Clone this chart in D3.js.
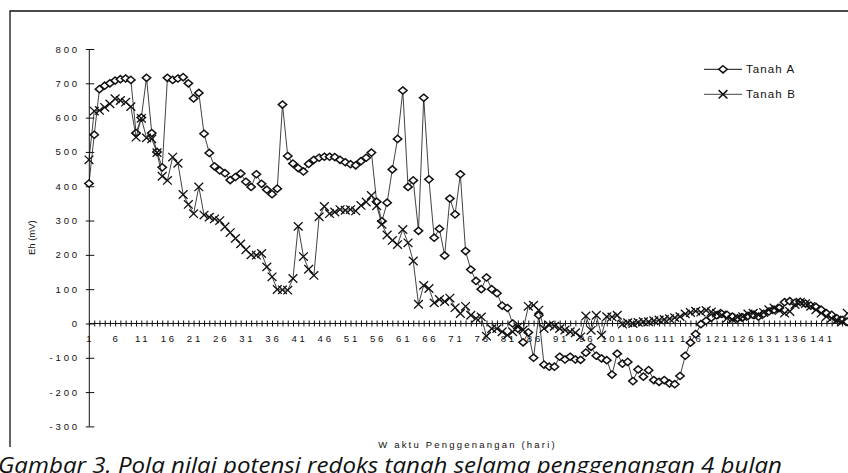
<!DOCTYPE html>
<html><head><meta charset="utf-8">
<script src="https://cdn.jsdelivr.net/npm/d3@7"></script>
<style>body{margin:0;background:#fff}svg{display:block}</style>
</head><body>
<svg id="c" width="848" height="473"></svg>
<script>
// ---- data ----
const days = d3.range(1, 147);
const tanahA = [
  408, 550, 683, 693, 700, 708, 712, 714, 710, 555,
  600, 716, 555, 500, 455, 716, 710, 714, 718, 700,
  656, 672, 553, 497, 458, 446, 438, 418, 427, 437,
  413, 398, 435, 407, 390, 377, 393, 638, 488, 466,
  453, 443, 465, 477, 483, 486, 486, 485, 477, 470,
  464, 461, 473, 483, 498, 355, 298, 352, 449, 538,
  679, 398, 417, 270, 658, 420, 250, 276, 198, 364,
  318, 435, 211, 157, 124, 100, 134, 100, 88, 52,
  45, 0, -15, -55, -26, -100, 24, -120, -126, -126,
  -97, -105, -97, -105, -106, -85, -68, -94, -102, -107,
  -149, -88, -117, -112, -168, -134, -155, -136, -165, -170,
  -165, -175, -177, -153, -94, -56, -31, -2, 8, 17,
  24, 28, 25, 20, 15, 18, 22, 25, 20, 28,
  35, 40, 45, 62, 65, 60, 63, 58, 52, 48,
  40, 30, 25, 15, 10, 5
];
const tanahB = [
  477, 619, 621, 630, 640, 655, 650, 645, 632, 543,
  598, 541, 538, 498, 429, 417, 485, 467, 376, 347,
  320, 398, 316, 310, 305, 300, 282, 265, 248, 232,
  215, 200, 199, 204, 165, 136, 99, 98, 97, 131,
  283, 195, 158, 140, 311, 341, 320, 325, 332, 330,
  332, 328, 344, 354, 373, 343, 289, 258, 242, 230,
  274, 235, 182, 56, 111, 102, 60, 70, 64, 74,
  46, 29, 50, 24, 15, 19, -37, -15, -15, -24,
  -34, -24, -10, -19, 50, 53, 39, -15, -5, -8,
  -15, -19, -24, -27, -39, 22, -20, 24, -34, 20,
  19, 24, -2, 2, 0, 3, 5, 5, 8, 10,
  12, 14, 17, 20, 28, 32, 36, 33, 38, 34,
  30, 25, 15, 12, 18, 20, 28, 30, 25, 32,
  40, 45, 38, 30, 35, 55, 62, 58, 50, 40,
  30, 20, 15, 10, 5, 30
];
const yTicks = [-300, -200, -100, 0, 100, 200, 300, 400, 500, 600, 700, 800];
const xLabelDays = [1, 6, 11, 16, 21, 26, 31, 36, 41, 46, 51, 56, 61, 66, 71, 76, 81, 86, 91, 96, 101, 106, 111, 116, 121, 126, 131, 136, 141];
const seriesNames = ["Tanah A", "Tanah B"];
const yTitle = "Eh (mV)";
const xTitle = "W aktu Penggenangan (hari)";
const caption = "Gambar 3. Pola nilai potensi redoks tanah selama penggenangan 4 bulan";

// ---- layout ----
const svg = d3.select("#c");
const W = 848, H = 473;
svg.append("rect").attr("width", W).attr("height", H).attr("fill", "#fff");

const x0 = 89, step = 5.23;
const x = d3.scaleLinear().domain([1, 146]).range([x0, x0 + 145 * step]);
const y = d3.scaleLinear().domain([-300, 800]).range([426.4, 49]);
const axisX = 89.3;
const font = "'Liberation Sans', Arial, sans-serif";

// border (frame)
svg.append("path").attr("d", `M10,447 V11 H${W + 2}`)
  .attr("fill", "none").attr("stroke", "#111").attr("stroke-width", 1.3);

// y axis
const yAxis = d3.axisLeft(y).tickValues(yTicks).tickSize(8.5).tickFormat("").tickSizeOuter(0);
const gy = svg.append("g").attr("transform", `translate(${axisX + 5},0)`).call(yAxis);
gy.select(".domain").remove();
gy.selectAll("line").attr("stroke", "#111").attr("stroke-width", 1);
svg.append("line").attr("x1", axisX).attr("x2", axisX).attr("y1", y(800)).attr("y2", y(-300))
  .attr("stroke", "#111").attr("stroke-width", 1);
svg.append("g").selectAll("text").data(yTicks).join("text")
  .attr("x", 80).attr("y", d => y(d) + 3.5)
  .attr("text-anchor", "end")
  .attr("font-family", font).attr("font-size", 9.6).attr("letter-spacing", 2.8)
  .attr("fill", "#111").text(d => d);

// x axis at y = 0
const y0 = y(0);
const xAxis = d3.axisBottom(x).tickValues(days).tickSize(6).tickFormat("").tickSizeOuter(0);
const gx = svg.append("g").attr("transform", `translate(0,${y0 - 3})`).call(xAxis);
gx.select(".domain").remove();
gx.selectAll("line").attr("stroke", "#111").attr("stroke-width", 1);
svg.append("line").attr("x1", axisX).attr("x2", W).attr("y1", y0).attr("y2", y0)
  .attr("stroke", "#111").attr("stroke-width", 1);
svg.append("g").selectAll("text").data(xLabelDays).join("text")
  .attr("x", d => x(d) + 1.4).attr("y", y0 + 19)
  .attr("text-anchor", "middle")
  .attr("font-family", font).attr("font-size", 9.6).attr("letter-spacing", 2.8)
  .attr("fill", "#111").text(d => d);

// axis titles
svg.append("text").attr("transform", `translate(34.5,${(y(800) + y(-300)) / 2}) rotate(-90)`)
  .attr("text-anchor", "middle").attr("font-family", font).attr("font-size", 9.5)
  .attr("fill", "#111").text(yTitle);
svg.append("text").attr("x", 467.5).attr("y", 448.3)
  .attr("text-anchor", "middle").attr("font-family", font).attr("font-size", 9.5)
  .attr("letter-spacing", 2.2).attr("fill", "#111").text(xTitle);

// series
const diamond = "M0,-3.6L4.2,0L0,3.6L-4.2,0Z";
const cross = "M-4.4,-4.2L4.4,4.2M4.4,-4.2L-4.4,4.2";
const line = d3.line().x((d, i) => x(days[i])).y(d => y(d));

function drawSeries(vals, marker, isDiamond) {
  svg.append("path").datum(vals).attr("d", line)
    .attr("fill", "none").attr("stroke", "#111").attr("stroke-width", 0.8);
  svg.append("g").selectAll("path").data(vals).join("path")
    .attr("transform", (d, i) => `translate(${x(days[i])},${y(d)})`)
    .attr("d", marker)
    .attr("fill", isDiamond ? "#fff" : "none")
    .attr("stroke", "#111").attr("stroke-width", isDiamond ? 1.5 : 1.3);
}
drawSeries(tanahA, diamond, true);
drawSeries(tanahB, cross, false);

// legend
const leg = svg.append("g");
[[tanahA, diamond, true, 69.3], [tanahB, cross, false, 94.3]].forEach((s, k) => {
  const ly = s[3];
  leg.append("line").attr("x1", 704).attr("x2", 742).attr("y1", ly).attr("y2", ly)
    .attr("stroke", k ? "#444" : "#111").attr("stroke-width", 1);
  leg.append("path").attr("transform", `translate(723,${ly})`).attr("d", s[1])
    .attr("fill", s[2] ? "#fff" : "none").attr("stroke", "#111").attr("stroke-width", 1.5);
  leg.append("text").attr("x", 746).attr("y", ly + 4)
    .attr("font-family", font).attr("font-size", 11.5).attr("letter-spacing", 1.1)
    .attr("fill", "#111").text(seriesNames[k]);
});

// caption
svg.append("text").attr("x", -2).attr("y", 473)
  .attr("font-family", "'Open Sans', sans-serif").attr("font-style", "italic")
  .attr("font-size", 22).attr("fill", "#111")
  .attr("textLength", 784).attr("lengthAdjust", "spacingAndGlyphs")
  .text(caption);
</script>
</body></html>
